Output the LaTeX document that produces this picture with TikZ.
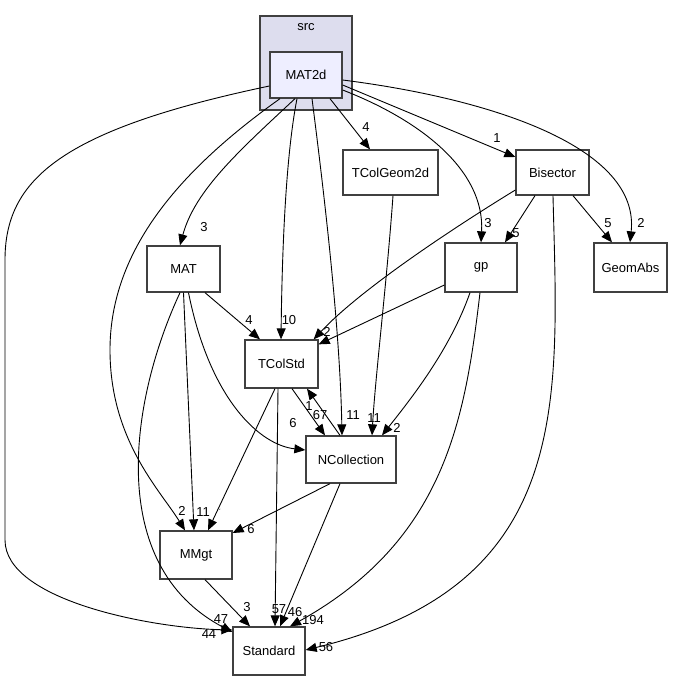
\documentclass[tikz,border=0pt]{standalone}
\usepackage{fontspec}
\setmainfont{Liberation Sans}
\usetikzlibrary{arrows.meta}
\definecolor{clfill}{HTML}{DDDDEE}
\definecolor{mfill}{HTML}{EEEEFF}
\definecolor{bord}{HTML}{404040}
\begin{document}
\begin{tikzpicture}[x=1pt,y=-1pt,
  box/.style={draw=bord,line width=1.3pt,fill=white,minimum width=73pt,minimum height=47pt,inner sep=0pt,font=\fontsize{13}{15}\selectfont},
  edge/.style={draw=black,line width=0.9pt,-{Triangle[length=11pt,width=9pt]}},
  lbl/.style={inner sep=0pt,font=\fontsize{13}{15}\selectfont}]
\useasboundingbox (0,0) rectangle (680,681);
% cluster
\node[draw=bord,line width=1.3pt,fill=clfill,minimum width=92pt,minimum height=94pt,inner sep=0pt] (src) at (306,63) {};
\node[lbl] (srclbl) at (306,27) {src};
\node[box,fill=mfill,minimum width=72pt,minimum height=46pt] (MAT2d) at (306,75) {MAT2d};
\node[box,minimum width=95pt,minimum height=45pt] (TColGeom2d) at (390.5,172.5) {TColGeom2d};
\node[box,minimum height=45pt] (Bisector) at (552.5,172.5) {Bisector};
\node[box,minimum height=46pt] (MAT) at (183.5,269) {MAT};
\node[box,minimum width=72pt,minimum height=49pt] (gp) at (481,267.5) {gp};
\node[box,minimum height=49pt] (GeomAbs) at (630.5,267.5) {GeomAbs};
\node[box,minimum height=48pt] (TColStd) at (281.5,364) {TColStd};
\node[box,minimum width=90pt,minimum height=47pt] (NCollection) at (351,459.5) {NCollection};
\node[box,minimum width=72pt,minimum height=48pt] (MMgt) at (196,555) {MMgt};
\node[box,minimum width=72pt,minimum height=48pt] (Standard) at (269,651) {Standard};

% edges from MAT2d
\draw[edge] ([yshift=-11pt]MAT2d.west) .. controls (60,130) and (5,180) .. (5,260) -- (5,540) .. controls (5,600) and (150,628) .. ([yshift=21pt]Standard.west);
\draw[edge] ([xshift=-26pt]MAT2d.south) .. controls (180,170) and (110,250) .. (110,350) .. controls (110,440) and (160,490) .. ([xshift=-11pt]MMgt.north);
\draw[edge] ([xshift=-11pt]MAT2d.south) .. controls (240,150) and (195,190) .. ([xshift=-3.5pt]MAT.north);
\draw[edge] ([xshift=-9pt]MAT2d.south) .. controls (285,160) and (282,260) .. ([xshift=-0.5pt]TColStd.north);
\draw[edge] ([xshift=6pt]MAT2d.south) .. controls (325,200) and (340,330) .. ([xshift=-9pt]NCollection.north);
\draw[edge] ([xshift=24pt]MAT2d.south) -- ([xshift=-20.5pt]TColGeom2d.north);
\draw[edge] ([yshift=-10pt]MAT2d.east) -- ([yshift=15.5pt]Bisector.west);
\draw[edge] ([yshift=-15pt]MAT2d.east) .. controls (420,120) and (485,170) .. (gp.north);
\draw[edge] ([yshift=-5pt]MAT2d.east) .. controls (500,100) and (640,150) .. ([xshift=-0.5pt]GeomAbs.north);
% TColGeom2d
\draw[edge] ([xshift=2.5pt]TColGeom2d.south) .. controls (387,280) and (375,380) .. ([xshift=21pt]NCollection.north);
% Bisector
\draw[edge] ([yshift=-17.5pt]Bisector.west) .. controls (450,230) and (360,290) .. ([xshift=-5pt]TColStd.north east);
\draw[edge] ([xshift=-17.5pt]Bisector.south) -- ([xshift=24pt]gp.north);
\draw[edge] ([xshift=20.5pt]Bisector.south) -- ([xshift=-18.5pt]GeomAbs.north);
\draw[edge] ([xshift=0.5pt]Bisector.south) .. controls (558,400) and (575,585) .. ([yshift=1pt]Standard.east);
% gp
\draw[edge] ([yshift=-17.5pt]gp.west) -- ([yshift=-5pt]TColStd.north east);
\draw[edge] ([xshift=-11pt]gp.south) .. controls (450,350) and (410,400) .. ([xshift=31pt]NCollection.north);
\draw[edge] ([xshift=-1pt]gp.south) .. controls (465,420) and (445,540) .. ([xshift=21pt]Standard.north);
% MAT
\draw[edge] ([xshift=21.5pt]MAT.south) -- ([xshift=-21.5pt]TColStd.north);
\draw[edge] (MAT.south) -- ([xshift=-2pt]MMgt.north);
\draw[edge] ([xshift=5pt]MAT.south) .. controls (210,400) and (260,445) .. ([yshift=9.5pt]NCollection.west);
\draw[edge] ([xshift=-3.5pt]MAT.south) .. controls (130,400) and (105,565) .. ([yshift=19pt]Standard.west);
% TColStd
\draw[edge] ([xshift=-6.5pt]TColStd.south) -- ([xshift=12pt]MMgt.north);
\draw[edge] ([xshift=10.5pt]TColStd.south) -- ([xshift=-26pt]NCollection.north);
\draw[edge] ([xshift=-11pt]NCollection.north) -- ([xshift=25.5pt]TColStd.south);
\draw[edge] ([xshift=-3.5pt]TColStd.south) -- ([xshift=6pt]Standard.north);
% NCollection
\draw[edge] ([xshift=-21pt]NCollection.south) -- ([yshift=22pt]MMgt.east);
\draw[edge] ([xshift=-11pt]NCollection.south) -- ([xshift=11pt]Standard.north);
% MMgt
\draw[edge] ([xshift=9pt]MMgt.south) -- ([xshift=-19pt]Standard.north);

% labels
\node[lbl] (l1) at (221,619) {47};
\node[lbl] (l2) at (209,634) {44};
\node[lbl] (l3) at (247,607) {3};
\node[lbl] (l4) at (279,609) {57};
\node[lbl] (l5) at (295,612) {46};
\node[lbl] (l6) at (313,620) {194};
\node[lbl] (l7) at (326,647) {56};
\node[lbl] (l8) at (182,511) {2};
\node[lbl] (l9) at (203,512) {11};
\node[lbl,font=\scriptsize] (l10) at (220,512) {´};
\node[lbl] (l11) at (251,529) {6};
\node[lbl] (l12) at (249,320) {4};
\node[lbl] (l13) at (289,320) {10};
\node[lbl] (l14) at (327,332) {2};
\node[lbl] (l15) at (204,227) {3};
\node[lbl] (l16) at (309,406) {1};
\node[lbl] (l17) at (320,415) {67};
\node[lbl] (l18) at (353,415) {11};
\node[lbl] (l19) at (374,418) {11};
\node[lbl] (l20) at (397,428) {2};
\node[lbl] (l21) at (293,423) {6};
\node[lbl] (l22) at (488,223) {3};
\node[lbl] (l23) at (516,233) {5};
\node[lbl] (l24) at (608,223) {5};
\node[lbl] (l25) at (641,223) {2};
\node[lbl] (l26) at (497,138) {1};
\node[lbl] (l27) at (366,127) {4};
\end{tikzpicture}
\end{document}
